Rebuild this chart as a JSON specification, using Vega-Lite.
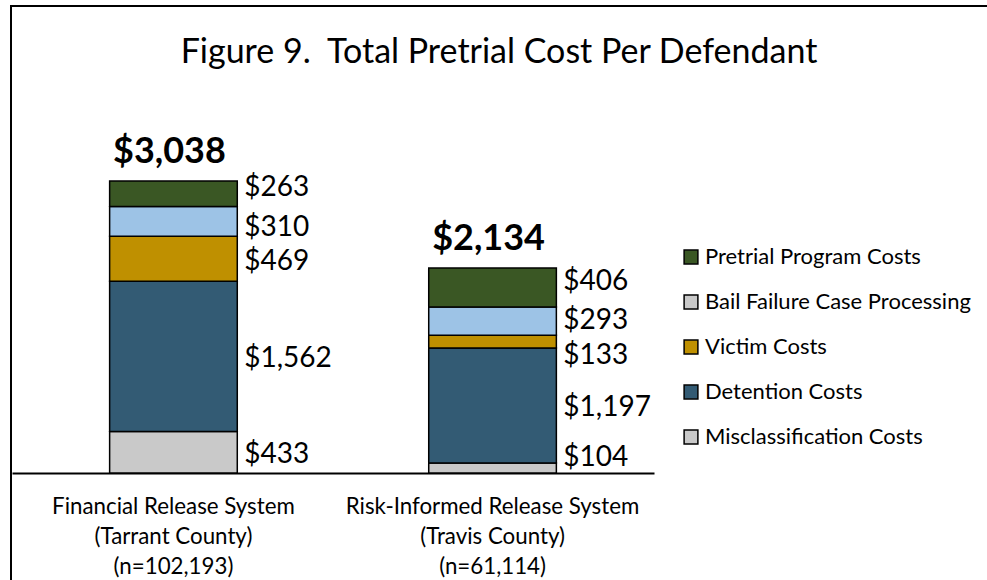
{
  "$schema": "https://vega.github.io/schema/vega-lite/v6.json",
  "width": 976,
  "height": 574,
  "autosize": {"type": "none"},
  "padding": {"left": 11, "top": 6, "right": 0, "bottom": 0},
  "background": "white",
  "config": {"view": {"stroke": "black", "strokeWidth": 2, "strokeDash": [976, 1550, 574, 10]}, "font": "Lato"},
  "title": {
    "text": "Figure 9.\u00a0 Total Pretrial Cost Per Defendant",
    "anchor": "middle",
    "frame": "group",
    "orient": "top",
    "fontSize": 34,
    "fontWeight": "normal",
    "font": "Lato",
    "color": "black",
    "baseline": "alphabetic",
    "offset": -91
  },
  "data": {
    "values": [
      {"system": "Financial Release System (Tarrant County) (n=102,193)", "category": "Misclassification Costs", "cost": 433},
      {"system": "Financial Release System (Tarrant County) (n=102,193)", "category": "Detention Costs", "cost": 1562},
      {"system": "Financial Release System (Tarrant County) (n=102,193)", "category": "Victim Costs", "cost": 469},
      {"system": "Financial Release System (Tarrant County) (n=102,193)", "category": "Bail Failure Case Processing", "cost": 310},
      {"system": "Financial Release System (Tarrant County) (n=102,193)", "category": "Pretrial Program Costs", "cost": 263},
      {"system": "Risk-Informed Release System (Travis County) (n=61,114)", "category": "Misclassification Costs", "cost": 104},
      {"system": "Risk-Informed Release System (Travis County) (n=61,114)", "category": "Detention Costs", "cost": 1197},
      {"system": "Risk-Informed Release System (Travis County) (n=61,114)", "category": "Victim Costs", "cost": 133},
      {"system": "Risk-Informed Release System (Travis County) (n=61,114)", "category": "Bail Failure Case Processing", "cost": 293},
      {"system": "Risk-Informed Release System (Travis County) (n=61,114)", "category": "Pretrial Program Costs", "cost": 406}
    ]
  },
  "transform": [
    {"calculate": "indexof(['Misclassification Costs','Detention Costs','Victim Costs','Bail Failure Case Processing','Pretrial Program Costs'], datum.category)", "as": "level"},
    {"stack": "cost", "groupby": ["system"], "sort": [{"field": "level", "order": "ascending"}], "as": ["cost_start", "cost_end"]},
    {"calculate": "(datum.cost_start + datum.cost_end) / 2", "as": "cost_mid"}
  ],
  "layer": [
    {
      "mark": {"type": "bar", "stroke": "black", "strokeWidth": 1.5},
      "encoding": {
        "x": {
          "field": "system",
          "type": "nominal",
          "sort": null,
          "scale": {"range": [1, 643], "paddingInner": 0.6, "paddingOuter": 0.306},
          "axis": {
            "orient": "bottom",
            "offset": -107,
            "title": null,
            "ticks": false,
            "grid": false,
            "domainColor": "black",
            "domainWidth": 2,
            "labelAngle": 0,
            "labelFont": "Lato",
            "labelFontSize": 22.3,
            "labelColor": "black",
            "labelPadding": 22,
            "labelLineHeight": 30,
            "labelLimit": 0,
            "labelBaseline": "top",
            "labelExpr": "[split(datum.value, ' (')[0], '(' + split(datum.value, ' (')[1], '(' + split(datum.value, ' (')[2]]"
          }
        },
        "y": {
          "field": "cost_start",
          "type": "quantitative",
          "scale": {"domain": [0, 3600], "range": [467, 121], "nice": false},
          "axis": null
        },
        "y2": {"field": "cost_end"},
        "color": {
          "field": "category",
          "type": "nominal",
          "scale": {
            "domain": ["Pretrial Program Costs", "Bail Failure Case Processing", "Victim Costs", "Detention Costs", "Misclassification Costs"],
            "range": ["#3a5724", "#9dc3e6", "#bf9000", "#335b74", "#c9c9c9"]
          },
          "legend": null
        }
      }
    },
    {
      "transform": [{"filter": "false"}],
      "mark": {"type": "bar", "stroke": "black", "strokeWidth": 1.5},
      "encoding": {
        "x": {"field": "system", "type": "nominal", "sort": null},
        "y": {"field": "cost_start", "type": "quantitative"},
        "color": {
          "field": "category",
          "type": "nominal",
          "scale": {
            "domain": ["Pretrial Program Costs", "Bail Failure Case Processing", "Victim Costs", "Detention Costs", "Misclassification Costs"],
            "range": ["#3a5724", "#c9c9c9", "#bf9000", "#335b74", "#c9c9c9"]
          },
          "legend": {
            "title": null,
            "orient": "none",
            "legendX": 669,
            "legendY": 240,
            "symbolType": "square",
            "symbolSize": 190,
            "symbolStrokeColor": "black",
            "symbolStrokeWidth": 1.5,
            "labelFont": "Lato",
            "labelFontSize": 22,
            "labelColor": "black",
            "labelOffset": 3,
            "labelLimit": 0,
            "rowPadding": 23
          }
        }
      }
    },
    {
      "transform": [{"filter": "datum.cost == 469 || datum.cost == 1562 || datum.cost == 1197 || datum.cost == 433"}],
      "mark": {"type": "text", "align": "left", "baseline": "middle", "dx": 7, "dy": 3, "fontSize": 28, "font": "Lato", "color": "black"},
      "encoding": {
        "x": {"field": "system", "type": "nominal", "sort": null, "bandPosition": 1},
        "y": {"field": "cost_mid", "type": "quantitative"},
        "text": {"field": "cost", "type": "quantitative", "format": "$,.0f"}
      }
    },
    {
      "transform": [{"filter": "datum.cost == 293"}],
      "mark": {"type": "text", "align": "left", "baseline": "middle", "dx": 7, "dy": 0, "fontSize": 28, "font": "Lato", "color": "black"},
      "encoding": {
        "x": {"field": "system", "type": "nominal", "sort": null, "bandPosition": 1},
        "y": {"field": "cost_mid", "type": "quantitative"},
        "text": {"field": "cost", "type": "quantitative", "format": "$,.0f"}
      }
    },
    {
      "transform": [{"filter": "datum.cost == 310"}],
      "mark": {"type": "text", "align": "left", "baseline": "middle", "dx": 7, "dy": 6.5, "fontSize": 28, "font": "Lato", "color": "black"},
      "encoding": {
        "x": {"field": "system", "type": "nominal", "sort": null, "bandPosition": 1},
        "y": {"field": "cost_mid", "type": "quantitative"},
        "text": {"field": "cost", "type": "quantitative", "format": "$,.0f"}
      }
    },
    {
      "transform": [{"filter": "datum.cost == 263 || datum.cost == 406"}],
      "mark": {"type": "text", "align": "left", "baseline": "middle", "dx": 7, "dy": -6, "fontSize": 28, "font": "Lato", "color": "black"},
      "encoding": {
        "x": {"field": "system", "type": "nominal", "sort": null, "bandPosition": 1},
        "y": {"field": "cost_mid", "type": "quantitative"},
        "text": {"field": "cost", "type": "quantitative", "format": "$,.0f"}
      }
    },
    {
      "transform": [{"filter": "datum.cost == 133"}],
      "mark": {"type": "text", "align": "left", "baseline": "middle", "dx": 7, "dy": 14, "fontSize": 28, "font": "Lato", "color": "black"},
      "encoding": {
        "x": {"field": "system", "type": "nominal", "sort": null, "bandPosition": 1},
        "y": {"field": "cost_mid", "type": "quantitative"},
        "text": {"field": "cost", "type": "quantitative", "format": "$,.0f"}
      }
    },
    {
      "transform": [{"filter": "datum.cost == 104"}],
      "mark": {"type": "text", "align": "left", "baseline": "middle", "dx": 7, "dy": -10, "fontSize": 28, "font": "Lato", "color": "black"},
      "encoding": {
        "x": {"field": "system", "type": "nominal", "sort": null, "bandPosition": 1},
        "y": {"field": "cost_mid", "type": "quantitative"},
        "text": {"field": "cost", "type": "quantitative", "format": "$,.0f"}
      }
    },
    {
      "data": {
        "values": [
          {"system": "Financial Release System (Tarrant County) (n=102,193)", "total": 3038},
          {"system": "Risk-Informed Release System (Travis County) (n=61,114)", "total": 2134}
        ]
      },
      "mark": {"type": "text", "align": "center", "baseline": "alphabetic", "dx": -4, "dy": -18, "fontSize": 36, "fontWeight": "bold", "font": "Lato", "color": "black"},
      "encoding": {
        "x": {"field": "system", "type": "nominal", "sort": null},
        "y": {"field": "total", "type": "quantitative"},
        "text": {"field": "total", "type": "quantitative", "format": "$,.0f"}
      }
    }
  ],
  "resolve": {"scale": {"color": "independent"}}
}
